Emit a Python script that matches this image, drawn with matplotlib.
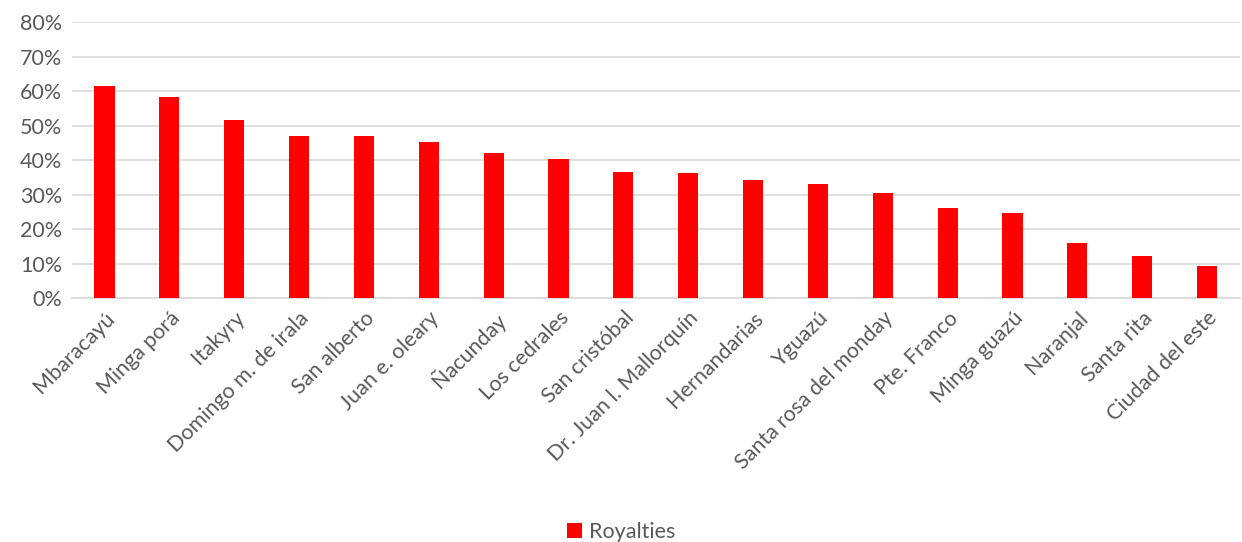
import matplotlib.pyplot as plt
from matplotlib.ticker import PercentFormatter

municipios = ["Mbaracayú", "Minga porá", "Itakyry", "Domingo m. de irala", "San alberto",
              "Juan e. oleary", "Ñacunday", "Los cedrales", "San cristóbal",
              "Dr. Juan l. Mallorquín", "Hernandarias", "Yguazú", "Santa rosa del monday",
              "Pte. Franco", "Minga guazú", "Naranjal", "Santa rita", "Ciudad del este"]
royalties = [0.616, 0.583, 0.517, 0.470, 0.470, 0.454, 0.422, 0.404, 0.365,
             0.364, 0.342, 0.330, 0.305, 0.261, 0.248, 0.160, 0.123, 0.094]

plt.rcParams['font.family'] = ['Lato', 'DejaVu Sans']
gris = "#595959"

fig = plt.figure(figsize=(12.42, 5.42), dpi=100)
ax = fig.add_axes([0.058, 0.450, 0.940, 0.509])

x = range(len(municipios))
ax.bar(x, royalties, width=0.31, color="#ff0000", label="Royalties", zorder=3)

ax.set_ylim(0, 0.8)
ax.set_xlim(-0.5, len(municipios) - 0.5)
ax.set_yticks([i / 10 for i in range(9)])
ax.yaxis.set_major_formatter(PercentFormatter(1.0, decimals=0))
ax.grid(axis="y", color="#d9d9d9", linewidth=1.2, zorder=0)
for s in ["top", "right", "left"]:
    ax.spines[s].set_visible(False)
ax.spines["bottom"].set_color("#d9d9d9")
ax.spines["bottom"].set_linewidth(1.2)
ax.tick_params(length=0, labelsize=15.5, colors=gris, pad=7)
ax.set_xticks(list(x))
ax.set_xticklabels(municipios, rotation=45, ha="right", rotation_mode="anchor")

fig.legend(loc="lower center", bbox_to_anchor=(0.5, -0.035), frameon=False,
           fontsize=15.5, handlelength=0.7, handleheight=0.7, handletextpad=0.3,
           labelcolor=gris)

fig.savefig("out.png", dpi=100)
